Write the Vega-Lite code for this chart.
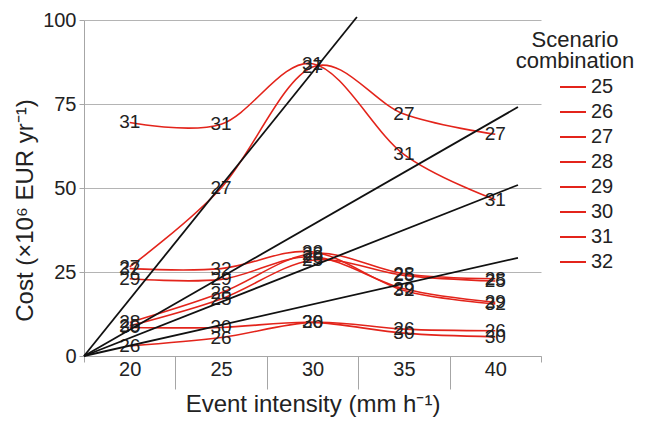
{
  "$schema": "https://vega.github.io/schema/vega-lite/v6.json",
  "width": 457,
  "height": 336,
  "autosize": "none",
  "padding": {"left": 84, "top": 20, "right": 105, "bottom": 68},
  "background": "white",
  "config": {"font": "Liberation Sans", "view": {"stroke": null}},
  "datasets": {
    "scen": [
      {"x": 20, "y": 9, "s": "25"}, {"x": 25, "y": 17, "s": "25"}, {"x": 30, "y": 28.5, "s": "25"}, {"x": 35, "y": 24, "s": "25"}, {"x": 40, "y": 22.3, "s": "25"},
      {"x": 20, "y": 3, "s": "26"}, {"x": 25, "y": 5.5, "s": "26"}, {"x": 30, "y": 10, "s": "26"}, {"x": 35, "y": 8, "s": "26"}, {"x": 40, "y": 7.5, "s": "26"},
      {"x": 20, "y": 26.5, "s": "27"}, {"x": 25, "y": 50, "s": "27"}, {"x": 30, "y": 86, "s": "27"}, {"x": 35, "y": 72, "s": "27"}, {"x": 40, "y": 66, "s": "27"},
      {"x": 20, "y": 10, "s": "28"}, {"x": 25, "y": 18.8, "s": "28"}, {"x": 30, "y": 30.5, "s": "28"}, {"x": 35, "y": 24.5, "s": "28"}, {"x": 40, "y": 23, "s": "28"},
      {"x": 20, "y": 23, "s": "29"}, {"x": 25, "y": 22.8, "s": "29"}, {"x": 30, "y": 29.5, "s": "29"}, {"x": 35, "y": 20, "s": "29"}, {"x": 40, "y": 16, "s": "29"},
      {"x": 20, "y": 8.5, "s": "30"}, {"x": 25, "y": 8.5, "s": "30"}, {"x": 30, "y": 10, "s": "30"}, {"x": 35, "y": 6.8, "s": "30"}, {"x": 40, "y": 5.7, "s": "30"},
      {"x": 20, "y": 69.5, "s": "31"}, {"x": 25, "y": 69, "s": "31"}, {"x": 30, "y": 87, "s": "31"}, {"x": 35, "y": 60, "s": "31"}, {"x": 40, "y": 46.5, "s": "31"},
      {"x": 20, "y": 26, "s": "32"}, {"x": 25, "y": 26, "s": "32"}, {"x": 30, "y": 31, "s": "32"}, {"x": 35, "y": 19.5, "s": "32"}, {"x": 40, "y": 15.5, "s": "32"}
    ],
    "ref": [
      {"x": 17.5, "y": 0, "g": "A"}, {"x": 32.43, "y": 100.9, "g": "A"},
      {"x": 17.5, "y": 0, "g": "B"}, {"x": 41.24, "y": 74.1, "g": "B"},
      {"x": 17.5, "y": 0, "g": "C"}, {"x": 41.24, "y": 50.9, "g": "C"},
      {"x": 17.5, "y": 0, "g": "D"}, {"x": 41.24, "y": 29.2, "g": "D"}
    ]
  },
  "layer": [
    {
      "data": {"name": "scen"},
      "mark": {"type": "line", "interpolate": "cardinal", "strokeWidth": 1.6},
      "encoding": {
        "x": {
          "field": "x", "type": "quantitative",
          "scale": {"domain": [17.5, 42.5], "nice": false, "zero": false},
          "axis": {
            "title": "Event intensity (mm h⁻¹)",
            "values": [17.5, 20, 22.5, 25, 27.5, 30, 32.5, 35, 37.5, 40, 42.5],
            "labelExpr": "datum.value % 5 == 0 ? datum.label : ''",
            "tickSize": {"condition": [{"test": "datum.value == 17.5 || datum.value == 42.5", "value": 6}, {"test": "datum.value % 5 != 0", "value": 33}], "value": 0},
            "tickColor": "#a6a6a6",
            "domainColor": "#a6a6a6",
            "grid": false,
            "labelFontSize": 20,
            "labelColor": "#222",
            "labelPadding": 3,
            "labelFlush": false,
            "labelOverlap": false,
            "titleFontSize": 24,
            "titleFontWeight": "normal",
            "titleColor": "#222",
            "titleY": 36,
            "titleBaseline": "top"
          }
        },
        "y": {
          "field": "y", "type": "quantitative",
          "scale": {"domain": [0, 100], "nice": false},
          "axis": {
            "title": "Cost (×10⁶ EUR yr⁻¹)",
            "values": [0, 25, 50, 75, 100],
            "grid": true,
            "gridColor": "#b4b4b4",
            "domainColor": "#a6a6a6",
            "tickColor": "#a6a6a6",
            "tickSize": 5,
            "labelFontSize": 20,
            "labelColor": "#222",
            "labelPadding": 3,
            "titleFontSize": 24,
            "titleFontWeight": "normal",
            "titleColor": "#222",
            "titlePadding": 5,
            "titleY": 190
          }
        },
        "color": {
          "field": "s", "type": "nominal",
          "scale": {"domain": ["25","26","27","28","29","30","31","32"], "range": ["#e3241b","#e3241b","#e3241b","#e3241b","#e3241b","#e3241b","#e3241b","#e3241b"]},
          "legend": {
            "orient": "none", "legendX": 432, "legendY": 10,
            "title": ["Scenario", "combination"],
            "titleFontSize": 22, "titleFontWeight": "normal", "titleColor": "#222",
            "titleAlign": "center", "titleAnchor": "middle", "titleLineHeight": 21, "titlePadding": 0,
            "labelFontSize": 20, "labelColor": "#222", "labelOffset": 4,
            "symbolType": "stroke", "symbolSize": 676, "symbolStrokeWidth": 2, "symbolOffset": 22,
            "rowPadding": 1
          }
        }
      }
    },
    {
      "data": {"name": "scen"},
      "mark": {"type": "text", "fontSize": 19, "color": "#222", "baseline": "middle", "align": "center"},
      "encoding": {
        "x": {"field": "x", "type": "quantitative"},
        "y": {"field": "y", "type": "quantitative"},
        "text": {"field": "s"}
      }
    },
    {
      "data": {"name": "ref"},
      "mark": {"type": "line", "color": "#111", "strokeWidth": 1.8},
      "encoding": {
        "x": {"field": "x", "type": "quantitative"},
        "y": {"field": "y", "type": "quantitative"},
        "detail": {"field": "g"}
      }
    }
  ]
}
